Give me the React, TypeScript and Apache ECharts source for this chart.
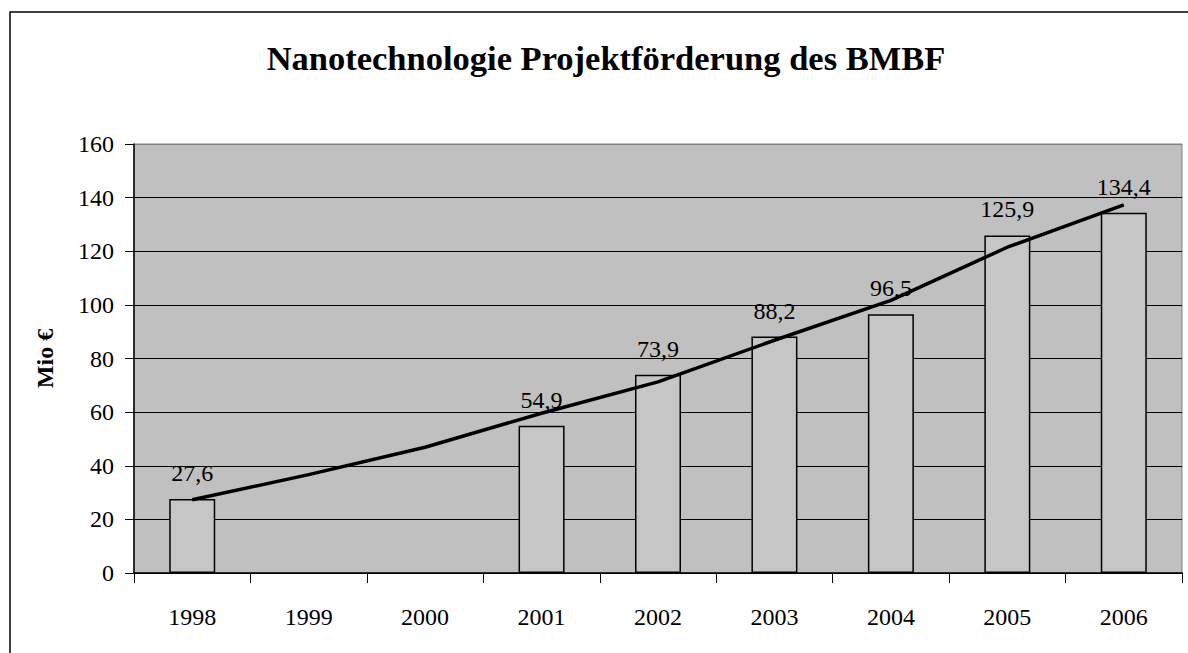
import React, { useEffect, useRef } from "react";
import * as echarts from "echarts";

const years = ["1998", "1999", "2000", "2001", "2002", "2003", "2004", "2005", "2006"];
const funding = [27.6, null, null, 54.9, 73.9, 88.2, 96.5, 125.9, 134.4];
const trend = [27.3, 36.7, 46.9, 59.6, 71.3, 86.8, 101.7, 121.5, 137.3];
const titleText = "Nanotechnologie Projektförderung des BMBF";
const yAxisName = "Mio €";

const FONT = "Liberation Serif";

export default function App() {
  const ref = useRef<HTMLDivElement>(null);
  useEffect(() => {
    if (!ref.current) return;
    const chart = echarts.init(ref.current, null, { renderer: "svg" });
    chart.setOption({
      animation: false,
      backgroundColor: "#ffffff",
      textStyle: { fontFamily: FONT },
      graphic: [
        {
          type: "rect",
          shape: { x: 10, y: 12, width: 1200, height: 700 },
          style: { fill: "none", stroke: "#000", lineWidth: 1.5 },
          z: 100,
        },
        {
          type: "text",
          x: 606,
          y: 58,
          style: {
            text: titleText,
            fontFamily: FONT,
            fontWeight: "bold",
            fontSize: 34.5,
            fill: "#000",
            textAlign: "center",
            textVerticalAlign: "middle",
          },
        },
      ],
      grid: {
        left: 134,
        top: 144,
        right: 6,
        bottom: 80,
        show: true,
        backgroundColor: "#C0C0C0",
        borderColor: "#808080",
        borderWidth: 1,
      },
      xAxis: {
        type: "category",
        data: years,
        boundaryGap: true,
        axisLine: { show: true, lineStyle: { color: "#000", width: 1.5 } },
        axisTick: { show: true, length: 10, lineStyle: { color: "#000", width: 1 } },
        axisLabel: { color: "#000", fontFamily: FONT, fontSize: 24, margin: 32 },
      },
      yAxis: {
        type: "value",
        min: 0,
        max: 160,
        interval: 20,
        name: yAxisName,
        nameLocation: "middle",
        nameRotate: 90,
        nameGap: 77,
        nameTextStyle: { color: "#000", fontFamily: FONT, fontWeight: "bold", fontSize: 24 },
        axisLine: { show: true, lineStyle: { color: "#000", width: 1.5 } },
        axisTick: { show: true, length: 9, lineStyle: { color: "#000", width: 1 } },
        axisLabel: { color: "#000", fontFamily: FONT, fontSize: 24, margin: 20 },
        splitLine: {
          show: true,
          lineStyle: {
            color: ["#000", "#000", "#000", "#000", "#000", "#000", "#000", "#000", "#808080"],
            width: 1,
          },
        },
      },
      series: [
        {
          type: "bar",
          data: funding.map((v) => (v === null ? "-" : v)),
          barWidth: 46,
          itemStyle: { color: "#C6C6C6", borderColor: "#000", borderWidth: 1.5 },
          label: {
            show: true,
            position: "top",
            distance: 14,
            color: "#000",
            fontFamily: FONT,
            fontSize: 24,
            formatter: (p: any) => String(p.value).replace(".", ","),
          },
          z: 2,
        },
        {
          type: "line",
          data: trend,
          symbol: "none",
          lineStyle: { color: "#000", width: 3.5 },
          z: 3,
        },
      ],
    });
    return () => chart.dispose();
  }, []);
  return (
    <div
      ref={ref}
      style={{ position: "fixed", left: 0, top: 0, width: 1188, height: 653 }}
    />
  );
}
